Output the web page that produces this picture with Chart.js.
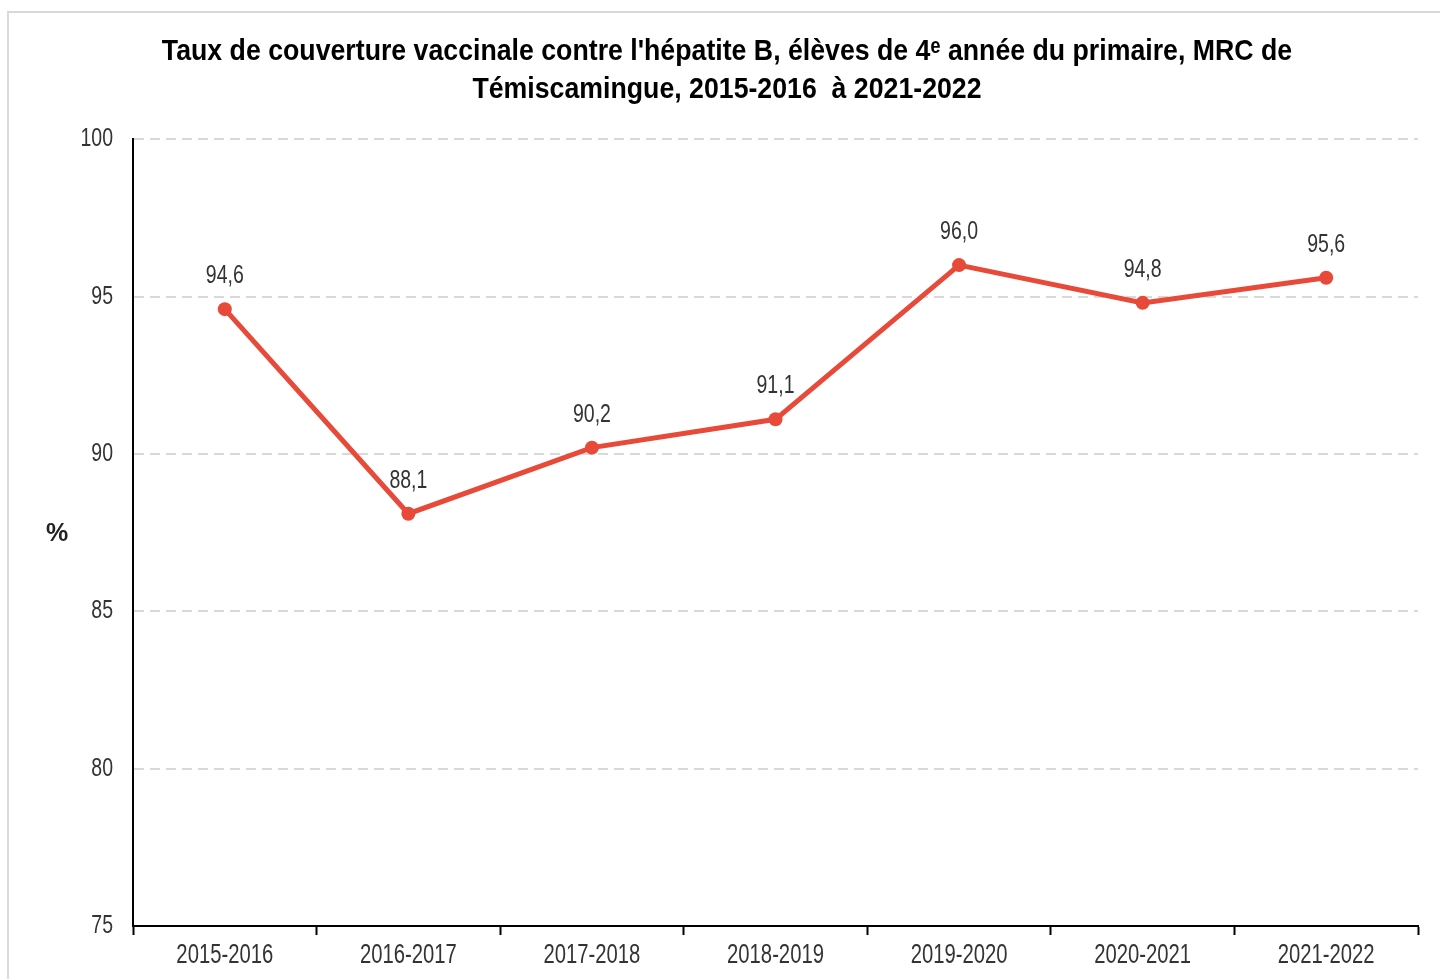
<!DOCTYPE html>
<html>
<head>
<meta charset="utf-8">
<script src="https://cdn.jsdelivr.net/npm/chart.js@4/dist/chart.umd.min.js"></script>
<style>
  html, body { margin: 0; padding: 0; background: #fff; overflow: hidden; }
  #frame { position: absolute; left: 7px; top: 11px; width: 1500px; height: 1100px; border: 2px solid #d9d9d9; }
  #wrap { position: absolute; left: 0; top: 0; width: 1440px; height: 979px; }
</style>
</head>
<body>
<div id="frame"></div>
<div id="wrap"><canvas id="chart"></canvas></div>
<script>
const years = ['2015-2016', '2016-2017', '2017-2018', '2018-2019', '2019-2020', '2020-2021', '2021-2022'];
const taux = [94.6, 88.1, 90.2, 91.1, 96.0, 94.8, 95.6];
const yMin = 75;
const yMax = 100;
const yStep = 5;

const font = '"Liberation Sans", Arial, sans-serif';

// pas de police étroite installée : on compresse le texte horizontalement
const narrowText = {
  id: 'narrowText',
  beforeInit(chart) {
    const ctx = chart.ctx;
    const raw = ctx.fillText.bind(ctx);
    ctx.rawFillText = raw;
    ctx.fillText = function(text, x, y, maxWidth) {
      const k = ctx.font.indexOf('bold') >= 0 ? 0.89 : 0.75;
      ctx.save();
      ctx.translate(x, y);
      ctx.scale(k, 1);
      if (maxWidth !== undefined) raw(text, 0, 0, maxWidth / k);
      else raw(text, 0, 0);
      ctx.restore();
    };
  }
};

// valeurs au-dessus des points, avec virgule décimale
const pointLabels = {
  id: 'pointLabels',
  afterDatasetsDraw(chart) {
    const ctx = chart.ctx;
    const meta = chart.getDatasetMeta(0);
    ctx.save();
    ctx.font = '26px ' + font;
    ctx.fillStyle = '#333';
    ctx.textAlign = 'center';
    ctx.textBaseline = 'middle';
    meta.data.forEach((pt, i) => {
      ctx.fillText(taux[i].toFixed(1).replace('.', ','), pt.x, pt.y - 33);
    });
    ctx.restore();
  }
};

// "%" horizontal à gauche de l'axe
const yUnit = {
  id: 'yUnit',
  afterDraw(chart) {
    const ctx = chart.ctx;
    ctx.save();
    ctx.font = 'bold 25px ' + font;
    ctx.fillStyle = '#222';
    ctx.textAlign = 'center';
    ctx.textBaseline = 'middle';
    ctx.rawFillText('%', 57, 534);
    ctx.restore();
  }
};

new Chart(document.getElementById('chart').getContext('2d'), {
  type: 'line',
  data: {
    labels: years,
    datasets: [{
      data: taux,
      borderColor: '#e84a3a',
      backgroundColor: '#e84a3a',
      borderWidth: 5,
      pointRadius: 7,
      pointHoverRadius: 7,
      pointBorderWidth: 0,
      tension: 0,
      fill: false
    }]
  },
  options: {
    responsive: true,
    maintainAspectRatio: false,
    animation: false,
    layout: { padding: { left: 36, right: 22, top: 0, bottom: 0 } },
    plugins: {
      legend: { display: false },
      tooltip: { enabled: false },
      title: {
        display: true,
        text: ["Taux de couverture vaccinale contre l'hépatite B, élèves de 4ᵉ année du primaire, MRC de",
               'Témiscamingue, 2015-2016  à 2021-2022'],
        color: '#000',
        font: { family: font, size: 30, weight: 'bold', lineHeight: 1.27 },
        padding: { top: 33, bottom: 30 }
      }
    },
    scales: {
      x: {
        offset: true,
        grid: { drawOnChartArea: false, drawTicks: true, tickLength: 9, tickWidth: 2, tickColor: '#000', offset: true },
        border: { display: true, color: '#000', width: 2 },
        ticks: { color: '#333', font: { family: font, size: 27 }, padding: 4, maxRotation: 0, autoSkip: false },
        afterFit(s) { s.height = 53; }
      },
      y: {
        min: yMin,
        max: yMax,
        grid: { color: '#d9d9d9', lineWidth: 2, drawTicks: false },
        border: { display: true, color: '#000', width: 2, dash: [10, 6] },
        ticks: { stepSize: yStep, color: '#333', font: { family: font, size: 26 }, padding: 20 },
        afterFit(s) { s.width = 97; }
      }
    }
  },
  plugins: [narrowText, pointLabels, yUnit]
});
</script>
</body>
</html>
